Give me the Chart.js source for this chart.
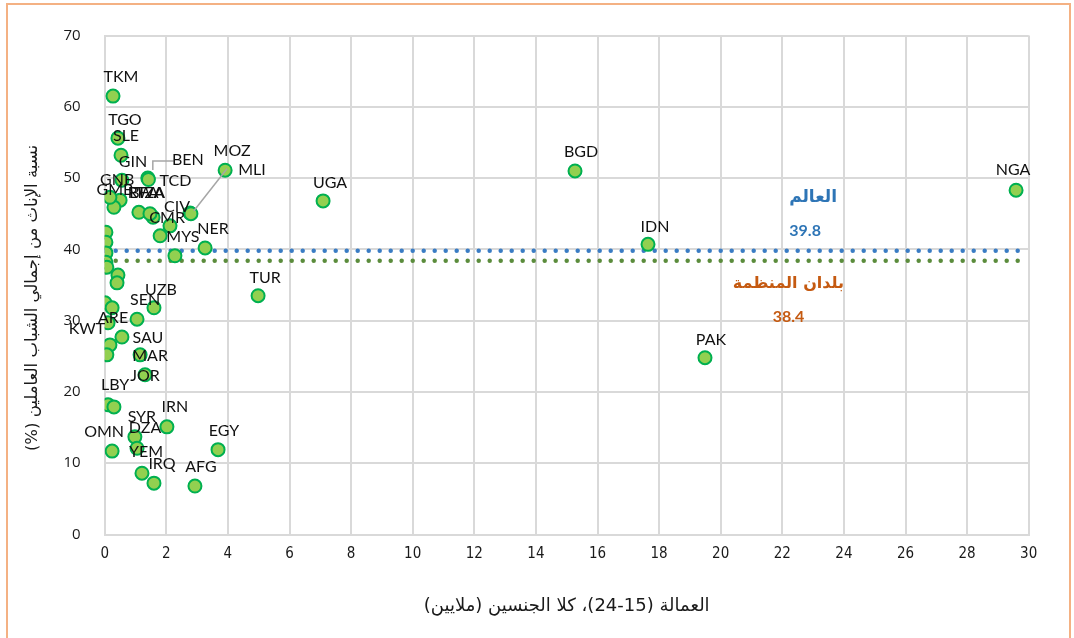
<!DOCTYPE html>
<html lang="ar">
<head>
<meta charset="utf-8">
<script src="https://cdn.jsdelivr.net/npm/chart.js@4.4.1/dist/chart.umd.min.js"></script>
<style>
  html, body { margin: 0; padding: 0; background: #ffffff; overflow: hidden; }
  #wrap { position: relative; width: 1074px; height: 638px; }
  #frame { position: absolute; left: 6px; top: 3px; width: 1065px; height: 660px;
           border: 2px solid #f4b183; box-sizing: border-box; pointer-events: none; }
  canvas { position: absolute; left: 0; top: 0; }
</style>
</head>
<body>
<div id="wrap">
  <canvas id="chart" width="1074" height="638"></canvas>
  <div id="frame"></div>
</div>
<script>
// Youth employment (15-24, both sexes, millions) and the female share of employed youth (%)
const codes = [
  'TKM','TGO','SLE','GIN','BEN','TCD','GNB','GMB','',
  'BFA','TZA','RWA','CIV','MLI','MOZ','CMR','','MYS','NER',
  'UGA','BGD','NGA','IDN','TUR','PAK',
  'UZB','SEN','ARE','KWT','SAU','MAR','JOR','','','',
  '','','','','','','',
  'LBY','','IRN','SYR','DZA','OMN','EGY','YEM','IRQ','AFG'
];
const employment = [
  0.27, 0.43, 0.53, 0.56, 1.40, 1.42, 0.50, 0.30, 0.17,
  1.11, 1.57, 1.47, 2.77, 2.80, 3.91, 1.80, 2.12, 2.28, 3.26,
  7.09, 15.27, 29.59, 17.64, 4.98, 19.49,
  1.60, 1.05, 0.11, 0.17, 0.56, 1.15, 1.31, 0.01, 0.24, 0.07,
  0.04, 0.04, 0.04, 0.04, 0.07, 0.43, 0.40,
  0.11, 0.30, 2.02, 0.98, 1.05, 0.24, 3.68, 1.21, 1.60, 2.93
];
const femaleShare = [
  61.5, 55.6, 53.2, 49.7, 50.0, 49.8, 46.9, 45.9, 47.3,
  45.2, 44.5, 45.0, 45.1, 45.0, 51.1, 41.9, 43.3, 39.1, 40.2,
  46.8, 51.0, 48.3, 40.7, 33.5, 24.8,
  31.8, 30.2, 29.7, 26.6, 27.7, 25.2, 22.4, 32.5, 31.8, 25.2,
  42.4, 41.0, 39.5, 38.2, 37.5, 36.4, 35.3,
  18.2, 17.9, 15.1, 13.7, 12.1, 11.7, 11.9, 8.6, 7.2, 6.8
];

// Reference averages
const worldShare = 39.8;
const orgShare = 38.4;
const worldLabel = 'العالم';
const orgLabel = 'بلدان المنظمة';

// Axis ranges and titles
const xMax = 30, xStep = 2;
const yMax = 70, yStep = 10;
const xTitle = 'العمالة (15-24)، كلا الجنسين (ملايين)';
const yTitle = 'نسبة الإناث من إجمالي الشباب العاملين (%)';

// Label placement (pixel offsets from each point), kept apart from the values
const labelOffsets = {
  TKM:[8,-19], TGO:[7,-18], SLE:[5,-19], GIN:[11,-18], BEN:[40,-18], TCD:[27,1],
  GNB:[-3,-20], GMB:[1,-17], BFA:[5,-19], TZA:[-3,-24], RWA:[-4,-21],
  CIV:[-13,-6], MLI:[61,-44], MOZ:[7,-19], CMR:[7,-18], MYS:[8,-19], NER:[8,-19],
  UGA:[7,-18], BGD:[6,-19], NGA:[-3,-20], IDN:[7,-18], TUR:[7,-18], PAK:[6,-18],
  UZB:[7,-18], SEN:[8,-19], ARE:[5,-5], KWT:[-23,-16], SAU:[26,1], MAR:[10,1], JOR:[0,1],
  LBY:[7,-20], IRN:[8,-20], SYR:[7,-20], DZA:[8,-20], OMN:[-8,-19], EGY:[6,-19],
  YEM:[4,-21], IRQ:[8,-19], AFG:[6,-19]
};
// Leader lines, as pixel paths relative to the point
const leaders = {
  BEN: [[26,-17],[5,-17],[5,-8]],
  MLI: [[36,-45],[3,-3]]
};

const RLM = '\u200F';
const rtl = s => RLM + s + RLM;

const points = employment.map((v, i) => ({ x: v, y: femaleShare[i] }));

const labelPlugin = {
  id: 'countryLabels',
  afterDatasetsDraw(chart) {
    const { ctx, scales: { x, y }, chartArea } = chart;
    ctx.save();
    // leader lines
    ctx.strokeStyle = '#a6a6a6';
    ctx.lineWidth = 1.5;
    Object.keys(leaders).forEach(code => {
      const i = codes.indexOf(code);
      const px = x.getPixelForValue(employment[i]);
      const py = y.getPixelForValue(femaleShare[i]);
      ctx.beginPath();
      leaders[code].forEach(([dx, dy], k) => {
        if (k === 0) ctx.moveTo(px + dx, py + dy); else ctx.lineTo(px + dx, py + dy);
      });
      ctx.stroke();
    });
    // country codes
    ctx.font = '16px Lato';
    ctx.fillStyle = '#111111';
    ctx.textAlign = 'center';
    ctx.textBaseline = 'middle';
    codes.forEach((c, i) => {
      if (!c) return;
      const px = x.getPixelForValue(employment[i]);
      const py = y.getPixelForValue(femaleShare[i]);
      const [dx, dy] = labelOffsets[c] || [7, -19];
      ctx.fillText(c, px + dx, py + dy);
    });
    // average annotations
    const ax1 = x.getPixelForValue(23.0);
    const ax2 = x.getPixelForValue(22.2);
    const wy = y.getPixelForValue(worldShare);
    const oy = y.getPixelForValue(orgShare);
    ctx.fillStyle = '#2e75b6';
    ctx.font = 'bold 17px "DejaVu Sans"';
    ctx.fillText(rtl(worldLabel), ax1, wy - 53);
    ctx.font = 'bold 16px Lato';
    ctx.fillText(worldShare.toFixed(1), ax1 - 8, wy - 20);
    ctx.fillStyle = '#c55a11';
    ctx.font = 'bold 16px "DejaVu Sans"';
    ctx.fillText(rtl(orgLabel), ax2, oy + 23);
    ctx.font = 'bold 16px Lato';
    ctx.fillText(orgShare.toFixed(1), ax2, oy + 56);

    // vertical axis title
    ctx.fillStyle = '#1a1a1a';
    ctx.font = '16.5px "DejaVu Sans"';
    ctx.translate(33, (chartArea.top + chartArea.bottom) / 2 + 13);
    ctx.rotate(-Math.PI / 2);
    ctx.fillText(rtl(yTitle), 0, 0);
    ctx.restore();
  }
};

new Chart(document.getElementById('chart'), {
  type: 'scatter',
  data: {
    datasets: [
      {
        label: 'countries',
        data: points,
        order: 1,
        pointRadius: 6.5,
        pointHoverRadius: 6.5,
        pointBackgroundColor: '#92d050',
        pointBorderColor: '#00b050',
        pointBorderWidth: 2
      },
      {
        label: worldLabel,
        data: [{ x: 0, y: worldShare }, { x: xMax, y: worldShare }],
        showLine: true,
        order: 3,
        pointRadius: 0,
        borderColor: '#3a7cc4',
        borderWidth: 4.5,
        borderDash: [0, 11],
        borderCapStyle: 'round'
      },
      {
        label: orgLabel,
        data: [{ x: 0, y: orgShare }, { x: xMax, y: orgShare }],
        showLine: true,
        order: 2,
        pointRadius: 0,
        borderColor: '#5b8c3c',
        borderWidth: 4.5,
        borderDash: [0, 11],
        borderCapStyle: 'round'
      }
    ]
  },
  options: {
    responsive: false,
    animation: false,
    layout: { padding: { left: 0, top: 35.5, right: 45.3, bottom: 0 } },
    plugins: { legend: { display: false }, tooltip: { enabled: false } },
    scales: {
      x: {
        type: 'linear',
        min: 0, max: xMax,
        ticks: { stepSize: xStep, color: '#1a1a1a', padding: 11,
                 font: { family: '"DejaVu Sans Condensed", "Liberation Sans", sans-serif', size: 15 } },
        grid: { color: '#d9d9d9', lineWidth: 2, drawTicks: false },
        border: { color: '#d9d9d9', width: 2 },
        title: { display: true, text: rtl(xTitle), color: '#1a1a1a',
                 font: { family: '"DejaVu Sans"', size: 18 }, padding: { top: 0, bottom: 21 } },
        afterFit: s => { s.height = 103.5; }
      },
      y: {
        type: 'linear',
        min: 0, max: yMax,
        ticks: { stepSize: yStep, color: '#1a1a1a', padding: 24,
                 font: { family: '"Open Sans"', size: 15 } },
        grid: { color: '#d9d9d9', lineWidth: 2, drawTicks: false },
        border: { color: '#d9d9d9', width: 2 },
        title: { display: false },
        afterFit: s => { s.width = 104.7; }
      }
    }
  },
  plugins: [labelPlugin]
});
</script>
</body>
</html>
